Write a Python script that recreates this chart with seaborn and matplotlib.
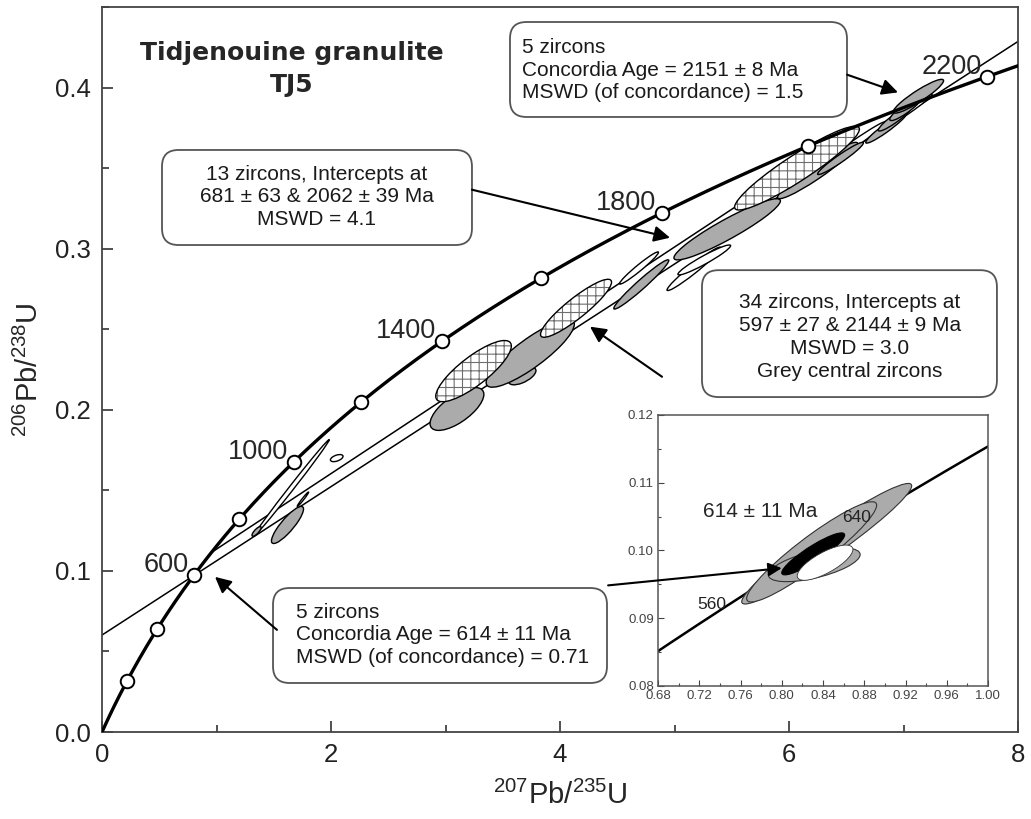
import numpy as np
import matplotlib
matplotlib.use("Agg")
import matplotlib.pyplot as plt
import seaborn as sns
from matplotlib.patches import Circle, FancyBboxPatch, ConnectionPatch
from matplotlib.transforms import Affine2D
from matplotlib.ticker import MultipleLocator, FormatStrFormatter

# U decay constants (1/yr)
LAMBDA_238 = 1.55125e-10
LAMBDA_235 = 9.8485e-10

# concordia age ticks (Ma)
marker_ages = [200, 400, 600, 800, 1000, 1200, 1400, 1600, 1800, 2000, 2200]
labelled_ages = [600, 1000, 1400, 1800, 2200]
inset_labelled_ages = [560, 640]

# discordia intercepts (Ma)
discordia_34 = [597, 2144]
discordia_13 = [681, 2062]

# 2-sigma error ellipses: 207Pb/235U, sx, 206Pb/238U, sy, rho
grey_x = [1.62, 1.35, 3.10, 3.67, 3.74, 4.71, 5.46, 6.25, 6.45, 6.85, 6.93, 7.02, 7.13]
grey_sx = [0.14, 0.04, 0.235, 0.12, 0.385, 0.24, 0.465, 0.35, 0.20, 0.18, 0.15, 0.14, 0.22]
grey_y = [0.1285, 0.1245, 0.2005, 0.2210, 0.2350, 0.2778, 0.3120, 0.3485, 0.3560, 0.3750, 0.3810, 0.3870, 0.3946]
grey_sy = [0.0115, 0.003, 0.0133, 0.0055, 0.0210, 0.0153, 0.0190, 0.0175, 0.0100, 0.0095, 0.0080, 0.0075, 0.0105]
grey_rho = [0.86, 0.80, 0.68, 0.60, 0.86, 0.97, 0.93, 0.95, 0.96, 0.95, 0.93, 0.90, 0.92]

open_x = [1.655, 2.05, 1.755, 4.69, 5.17, 5.26, 6.55, 7.05]
open_sx = [0.33, 0.055, 0.05, 0.17, 0.235, 0.23, 0.30, 0.20]
open_y = [0.1515, 0.1700, 0.1445, 0.2880, 0.2875, 0.2930, 0.3640, 0.3860]
open_sy = [0.030, 0.0022, 0.0045, 0.0100, 0.0135, 0.0093, 0.0150, 0.0100]
open_rho = [0.997, 0.50, 0.98, 0.97, 0.97, 0.95, 0.985, 0.98]

rim_x = [3.245, 4.14, 6.07]
rim_sx = [0.33, 0.31, 0.545]
rim_y = [0.2240, 0.2630, 0.3500]
rim_sy = [0.019, 0.018, 0.026]
rim_rho = [0.82, 0.90, 0.93]

# inset: young population around 614 Ma
inset_grey_x = [0.8436, 0.829, 0.8315]
inset_grey_sx = [0.0824, 0.063, 0.0445]
inset_grey_y = [0.1010, 0.0998, 0.0979]
inset_grey_sy = [0.0089, 0.0074, 0.0025]
inset_grey_rho = [0.96, 0.93, 0.60]
concordia_age_614 = (0.8305, 0.0305, 0.0995, 0.0031, 0.90)
inset_open = (0.842, 0.027, 0.0982, 0.0026, 0.75)

GREY = "#ababab"


def concordia(t_ma):
    t = np.asarray(t_ma, dtype=float) * 1e6
    return np.expm1(LAMBDA_235 * t), np.expm1(LAMBDA_238 * t)


def error_ellipse(ax, x, sx, y, sy, rho, zorder=2, **kw):
    m = np.array([[sx, 0.0, x],
                  [rho * sy, sy * np.sqrt(1.0 - rho ** 2), y],
                  [0.0, 0.0, 1.0]])
    patch = Circle((0, 0), 1.0, transform=Affine2D(m) + ax.transData, zorder=zorder, **kw)
    ax.add_patch(patch)
    return patch


sns.set_theme(style="ticks")
plt.rcParams["font.family"] = ["Liberation Sans", "DejaVu Sans"]
plt.rcParams["mathtext.fontset"] = "custom"
plt.rcParams["mathtext.rm"] = "Liberation Sans"
plt.rcParams["mathtext.default"] = "regular"
plt.rcParams["hatch.color"] = "#6e6e6e"
plt.rcParams["hatch.linewidth"] = 0.8

fig = plt.figure(figsize=(10.31, 8.19), dpi=100)
ax = fig.add_axes([102 / 1031, 87 / 819, 916 / 1031, 725 / 819])

# discordia lines
xa, ya = concordia(discordia_34)
slope_a = (ya[1] - ya[0]) / (xa[1] - xa[0])
line_x = np.array([0.0, 8.0])
sns.lineplot(x=line_x, y=ya[0] + slope_a * (line_x - xa[0]), ax=ax, color="black",
             lw=1.1, sort=False, estimator=None, zorder=1)
xb, yb = concordia(discordia_13)
sns.lineplot(x=xb, y=yb, ax=ax, color="black", lw=1.1, sort=False, estimator=None, zorder=1)

# error ellipses
for x, sx, y, sy, r in zip(open_x, open_sx, open_y, open_sy, open_rho):
    error_ellipse(ax, x, sx, y, sy, r, facecolor="white", edgecolor="black", lw=1.0, zorder=2)
for x, sx, y, sy, r in zip(grey_x, grey_sx, grey_y, grey_sy, grey_rho):
    error_ellipse(ax, x, sx, y, sy, r, facecolor=GREY, edgecolor="black", lw=1.0, zorder=2.2)
for x, sx, y, sy, r in zip(rim_x, rim_sx, rim_y, rim_sy, rim_rho):
    error_ellipse(ax, x, sx, y, sy, r, facecolor="white", edgecolor="#6e6e6e", hatch="++",
                  lw=0, zorder=2.4)
    error_ellipse(ax, x, sx, y, sy, r, facecolor="none", edgecolor="black", lw=1.0, zorder=2.5)

# concordia curve with age markers
curve_ages = np.linspace(0, 2240, 600)
cx, cy = concordia(curve_ages)
sns.lineplot(x=cx, y=cy, ax=ax, color="black", lw=2.4, sort=False, estimator=None, zorder=3)
mx, my = concordia(marker_ages)
sns.scatterplot(x=mx, y=my, ax=ax, s=95, color="white", edgecolor="black", linewidth=1.4,
                zorder=4, legend=False)
for age in labelled_ages:
    px, py = concordia(age)
    ax.annotate(str(age), (px, py), xytext=(-4, 2), textcoords="offset points",
                ha="right", va="baseline", fontsize=19.5, zorder=5)

ax.set_xlim(0, 8)
ax.set_ylim(0, 0.45)
ax.xaxis.set_major_locator(MultipleLocator(2))
ax.xaxis.set_minor_locator(MultipleLocator(1))
ax.yaxis.set_major_locator(MultipleLocator(0.1))
ax.yaxis.set_minor_locator(MultipleLocator(0.05))
ax.yaxis.set_major_formatter(FormatStrFormatter("%.1f"))
ax.tick_params(which="both", direction="in", labelsize=18.5, colors="#222222", pad=8)
ax.tick_params(which="major", length=8, width=1.1)
ax.tick_params(which="minor", length=5, width=1.1)
for sp in ax.spines.values():
    sp.set_color("#444444")
    sp.set_linewidth(1.3)
ax.set_xlabel(r"$^{207}$Pb/$^{235}$U", fontsize=21, labelpad=10)
ax.set_ylabel(r"$^{206}$Pb/$^{238}$U", fontsize=21, labelpad=8)

# sample title
ax.text(0.2074, 0.9145, "Tidjenouine granulite\nTJ5", transform=ax.transAxes, ha="center",
        va="center", fontsize=18, fontweight="bold", family="DejaVu Sans", linespacing=1.45)

# annotation boxes (axes fraction)
ASPECT = 916 / 725


def note_box(x0, x1, y0, y1, text, tx, ty, ha):
    box = FancyBboxPatch((x0, y0), x1 - x0, y1 - y0, transform=ax.transAxes,
                         boxstyle="round,pad=0,rounding_size=0.018", mutation_aspect=ASPECT,
                         facecolor="white", edgecolor="#555555", lw=1.3, zorder=6)
    ax.add_patch(box)
    ax.text(tx, ty, text, transform=ax.transAxes, ha=ha, va="center", multialignment=ha,
            fontsize=15, linespacing=1.25, zorder=7, color="#1a1a1a")


note_box(0.4454, 0.8133, 0.8483, 0.9793,
         "5 zircons\nConcordia Age = 2151 ± 8 Ma\nMSWD (of concordance) = 1.5",
         0.4585, 0.913, "left")
note_box(0.0655, 0.4039, 0.6717, 0.8028,
         "13 zircons, Intercepts at\n681 ± 63 & 2062 ± 39 Ma\nMSWD = 4.1",
         0.2347, 0.738, "center")
note_box(0.655, 0.977, 0.462, 0.637,
         "34 zircons, Intercepts at\n597 ± 27 & 2144 ± 9 Ma\nMSWD = 3.0\nGrey central zircons",
         0.8166, 0.545, "center")
note_box(0.1867, 0.5513, 0.0676, 0.1986,
         "5 zircons\nConcordia Age = 614 ± 11 Ma\nMSWD (of concordance) = 0.71",
         0.2118, 0.1338, "left")

arrow_kw = dict(arrowstyle="-|>", color="black", lw=1.5, mutation_scale=24, shrinkA=0, shrinkB=0)
for start, tip in [((6.507, 0.408), (6.952, 0.397)),
                   ((3.231, 0.3366), (4.961, 0.3068)),
                   ((4.891, 0.2205), (4.262, 0.2516)),
                   ((1.528, 0.0634), (0.987, 0.0963))]:
    ax.annotate("", xy=tip, xytext=start, arrowprops=arrow_kw, zorder=8)

# inset: close-up of the 614 Ma concordia age
axins = fig.add_axes([658 / 1031, (819 - 686) / 819, 330 / 1031, 271 / 819])
axins.set_facecolor("white")
ix, iy = concordia(np.linspace(500, 720, 200))
sns.lineplot(x=ix, y=iy, ax=axins, color="black", lw=1.8, sort=False, estimator=None, zorder=1)
for x, sx, y, sy, r in zip(inset_grey_x, inset_grey_sx, inset_grey_y, inset_grey_sy, inset_grey_rho):
    error_ellipse(axins, x, sx, y, sy, r, facecolor=GREY, edgecolor="#333333", lw=0.8, zorder=2)
error_ellipse(axins, *concordia_age_614, facecolor="black", edgecolor="black", lw=0.8, zorder=3)
error_ellipse(axins, *inset_open, facecolor="white", edgecolor="#333333", lw=0.6, zorder=4)
for age in inset_labelled_ages:
    px, py = concordia(age)
    axins.annotate(str(age), (px, py), xytext=(-3, 1) if age == 560 else (-4, -3),
                   textcoords="offset points", ha="center", va="bottom", fontsize=12.5,
                   color="#222222", zorder=5)
axins.text(0.779, 0.1058, "614 ± 11 Ma", ha="center", va="center", fontsize=15, zorder=5)
axins.set_xlim(0.68, 1.00)
axins.set_ylim(0.08, 0.12)
axins.xaxis.set_major_locator(MultipleLocator(0.04))
axins.xaxis.set_minor_locator(MultipleLocator(0.02))
axins.yaxis.set_major_locator(MultipleLocator(0.01))
axins.yaxis.set_minor_locator(MultipleLocator(0.005))
axins.xaxis.set_major_formatter(FormatStrFormatter("%.2f"))
axins.yaxis.set_major_formatter(FormatStrFormatter("%.2f"))
axins.tick_params(which="both", direction="in", labelsize=9.5, colors="#444444", pad=3)
axins.tick_params(which="major", length=4, width=0.8)
axins.tick_params(which="minor", length=2.5, width=0.8)
for sp in axins.spines.values():
    sp.set_color("#555555")
    sp.set_linewidth(1.1)

link = ConnectionPatch(xyA=(4.42, 0.091), coordsA=ax.transData,
                       xyB=(0.80, 0.0974), coordsB=axins.transData,
                       arrowstyle="-|>", color="black", lw=1.5, mutation_scale=20,
                       shrinkA=0, shrinkB=0, zorder=10)
fig.add_artist(link)

fig.savefig("out.png", dpi=100)
